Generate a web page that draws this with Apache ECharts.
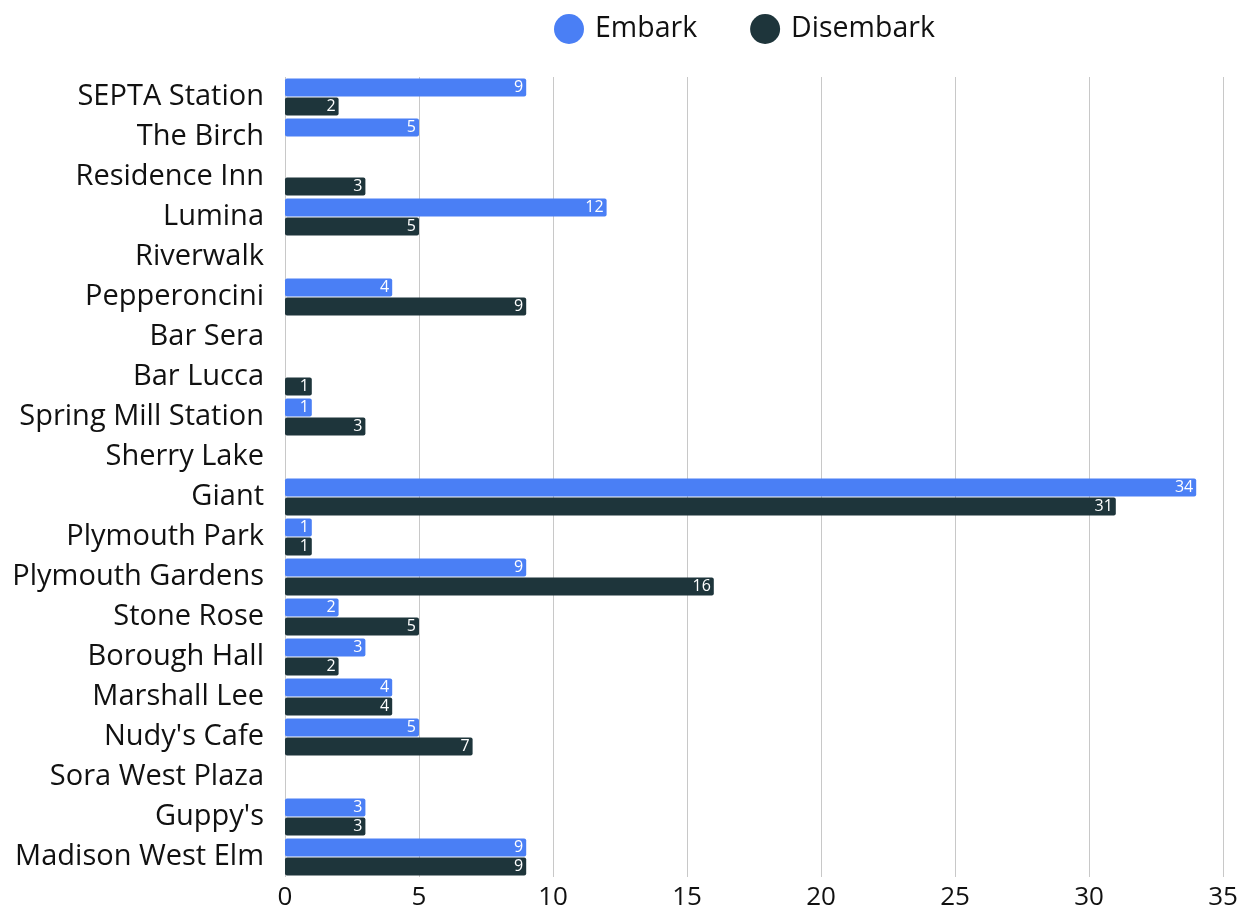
<!DOCTYPE html>
<html><head><meta charset="utf-8">
<script src="https://cdn.jsdelivr.net/npm/echarts@6/dist/echarts.min.js"></script>
<style>html,body{margin:0;padding:0;background:#fff}#c{width:1246px;height:913px}</style>
</head><body><div id="c"></div>
<script>
const categories = ["SEPTA Station","The Birch","Residence Inn","Lumina","Riverwalk","Pepperoncini","Bar Sera","Bar Lucca","Spring Mill Station","Sherry Lake","Giant","Plymouth Park","Plymouth Gardens","Stone Rose","Borough Hall","Marshall Lee","Nudy's Cafe","Sora West Plaza","Guppy's","Madison West Elm"];
const embark =    [9,5,null,12,null,4,null,null,1,null,34,1,9,2,3,4,5,null,3,9];
const disembark = [2,null,3,5,null,9,null,1,3,null,31,1,16,5,2,4,7,null,3,9];
const xTicks = [0,5,10,15,20,25,30,35];

const chart = echarts.init(document.getElementById('c'));
const font = '"Open Sans", sans-serif';
const lbl = {show:true, position:'insideRight', color:'#fff', fontSize:16, fontFamily:font, distance:3};
chart.setOption({
  animation:false,
  textStyle:{fontFamily:font},
  legend:{top:9, left:549, itemGap:53, icon:'circle', itemWidth:30, itemHeight:30,
    itemStyle:{borderWidth:0},
    textStyle:{fontSize:28.5, color:'#111', fontFamily:font, padding:[0,0,0,6]},
    data:['Embark','Disembark']},
  grid:{left:285, right:23, top:77, bottom:36, containLabel:false},
  xAxis:{type:'value', min:xTicks[0], max:xTicks[xTicks.length-1], interval:5,
    axisLine:{show:false}, axisTick:{show:false},
    axisLabel:{fontSize:26, color:'#111', fontFamily:font, margin:8},
    splitLine:{show:true, lineStyle:{color:'#c8c8c8', width:1}}},
  yAxis:{type:'category', data:categories, inverse:true,
    axisLine:{show:false}, axisTick:{show:false}, splitLine:{show:false},
    axisLabel:{fontSize:29, color:'#111', fontFamily:font, margin:21}},
  series:[
    {name:'Embark', type:'bar', data:embark, barWidth:18, barGap:'5%',
     itemStyle:{color:'#4a7ff5', borderRadius:2}, label:lbl},
    {name:'Disembark', type:'bar', data:disembark, barWidth:18,
     itemStyle:{color:'#1e353b', borderRadius:2}, label:lbl}
  ]
});
</script></body></html>
